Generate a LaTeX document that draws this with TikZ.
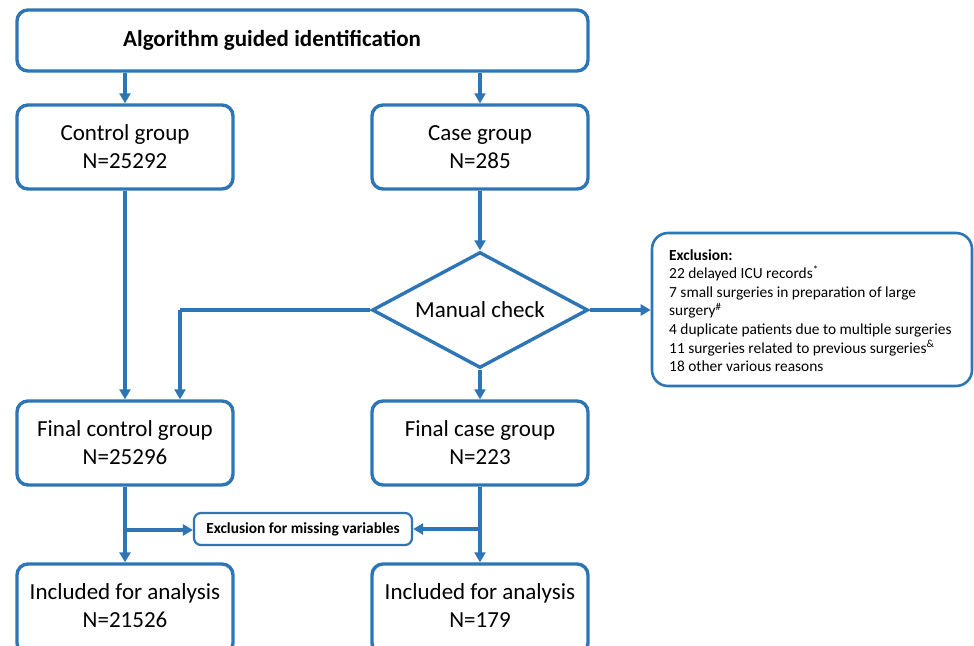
\documentclass[tikz,border=0pt]{standalone}
\usepackage{fontspec}
\setmainfont{Carlito}
\usetikzlibrary{arrows.meta,shapes.geometric,calc}
\definecolor{flowblue}{HTML}{2E75B6}
\tikzset{
  box/.style={draw=flowblue, line width=3.4pt, rounded corners=11pt, fill=white, inner sep=0pt, align=center, font=\fontsize{23}{28}\selectfont},
  arr/.style={draw=flowblue, line width=3.2pt, -{Triangle[length=10pt,width=11pt]}},
  ln/.style={draw=flowblue, line width=3.2pt},
}
\begin{document}
\begin{tikzpicture}[x=1pt,y=-1pt]
\clip (0,0) rectangle (974,645);
\fill[white] (0,0) rectangle (974,645);
\node[box, minimum width=571pt, minimum height=61pt] (top) at (302.5,40.5) {};
\node[font=\bfseries\fontsize{23}{27}\selectfont, anchor=west, inner sep=0pt] (toptxt) at (123,40) {Algorithm guided identification};
\node[box, minimum width=216pt, minimum height=84pt] (ctrl) at (125,147) {Control group\\N=25292};
\node[box, minimum width=216pt, minimum height=84pt] (case) at (480,147) {Case group\\N=285};
\node[draw=flowblue, line width=3.4pt, diamond, aspect=1.86, minimum width=216pt, minimum height=116pt, inner sep=0pt, font=\fontsize{23}{28}\selectfont] (check) at (480,310) {Manual check};
\node[box, minimum width=320pt, minimum height=153pt, rounded corners=16pt, line width=2.6pt] (excl) at (812,309.5) {};
\node[anchor=north west, align=left, inner sep=0pt, font=\fontsize{15.4}{18.6}\selectfont] (excltxt) at (669,249) {\textbf{Exclusion:}\\22 delayed ICU records\textsuperscript{*}\\7 small surgeries in preparation of large\\surgery\textsuperscript{\#}\\4 duplicate patients due to multiple surgeries\\11 surgeries related to previous surgeries\textsuperscript{\&}\\18 other various reasons};
\node[box, minimum width=216pt, minimum height=84pt] (fctrl) at (125,443) {Final control group\\N=25296};
\node[box, minimum width=216pt, minimum height=84pt] (fcase) at (480,443) {Final case group\\N=223};
\node[box, minimum width=218pt, minimum height=32pt, rounded corners=7pt, line width=2.2pt, font=\bfseries\fontsize{15.4}{18}\selectfont] (miss) at (303,529) {Exclusion for missing variables};
\node[box, minimum width=216pt, minimum height=90pt] (ictrl) at (125,609) {};
\node[align=center, font=\fontsize{23}{28}\selectfont] (ictrltxt) at (125,606) {Included for analysis\\N=21526};
\node[box, minimum width=216pt, minimum height=90pt] (icase) at (480,609) {};
\node[align=center, font=\fontsize{23}{28}\selectfont] (icasetxt) at (480,606) {Included for analysis\\N=179};
% connectors
\draw[arr] (top.south -| ctrl.north) -- (ctrl.north);
\draw[arr] (top.south -| case.north) -- (case.north);
\draw[arr] (ctrl.south) -- (fctrl.north);
\draw[arr] (case.south) -- (check.north);
\coordinate (lbend) at (180,310);
\draw[ln] (check.west) -- (lbend);
\draw[arr] (lbend) -- (lbend |- fctrl.north);
\draw[arr] (check.east) -- (excl.west |- check.east);
\draw[arr] (check.south) -- (fcase.north);
\draw[arr] (fctrl.south) -- (ictrl.north);
\draw[arr] (fcase.south) -- (icase.north);
\coordinate (lbr) at (125,530);
\coordinate (rbr) at (480,529);
\draw[arr] (lbr) -- (miss.west |- lbr);
\draw[arr] (rbr) -- (miss.east |- rbr);
\end{tikzpicture}
\end{document}
